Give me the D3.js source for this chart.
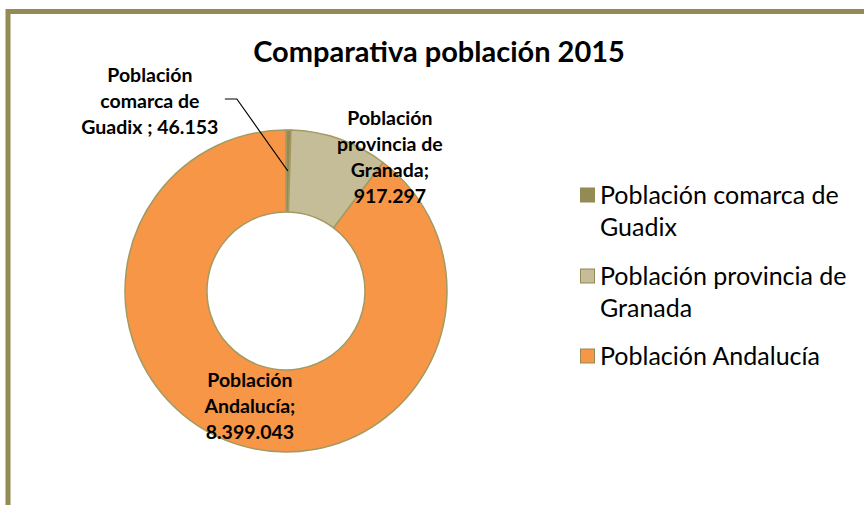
<!DOCTYPE html>
<html>
<head>
<meta charset="utf-8">
<script src="https://cdn.jsdelivr.net/npm/d3@7"></script>
<style>
  body { margin: 0; background: #fff; }
  svg { display: block; font-family: Lato, "Open Sans", sans-serif; }
</style>
</head>
<body>
<svg width="864" height="505"></svg>
<script>
(function() {

// data
var categories = ["Población comarca de Guadix", "Población provincia de Granada", "Población Andalucía"];
var values = [46153, 917297, 8399043];
var separators = [" ; ", "; ", "; "];
var colors = ["#948A54", "#C4BD97", "#F79646"];
var chartTitle = "Comparativa población 2015";

var svg = d3.select("svg"),
    width = 864,
    height = 505;

var esLocale = d3.formatLocale({decimal: ",", thousands: ".", grouping: [3], currency: ["", " €"]});
var fmt = esLocale.format(",d");

// outer frame (runs off the right and bottom edges)
svg.append("rect")
    .attr("x", 8)
    .attr("y", 11.5)
    .attr("width", 900)
    .attr("height", 600)
    .attr("fill", "#fff")
    .attr("stroke", "#948A54")
    .attr("stroke-width", 5);

svg.append("text")
    .attr("x", 439)
    .attr("y", 62)
    .attr("text-anchor", "middle")
    .style("font-weight", "bold")
    .style("font-size", "29px")
    .style("fill", "#000")
    .text(chartTitle);

var cx = 286, cy = 291,
    outerR = 161, innerR = 79;

var pie = d3.pie().sort(null).value(function(d) { return d.value; });
var arc = d3.arc().innerRadius(innerR).outerRadius(outerR);

var data = categories.map(function(c, i) {
    return {name: c, value: values[i], color: colors[i], sep: separators[i]};
});
var arcs = pie(data);

var g = svg.append("g").attr("transform", "translate(" + cx + "," + cy + ")");

g.selectAll("path")
    .data(arcs)
    .enter()
    .append("path")
    .attr("d", arc)
    .attr("fill", function(d) { return d.data.color; })
    .attr("stroke", "#A39A63")
    .attr("stroke-width", 1.5);

// word wrap helper
function wrapLines(textSel, str, maxW) {
    var words = str.split(" "), lines = [], cur = "";
    var probe = textSel.append("tspan");
    words.forEach(function(w) {
        var test = cur ? cur + " " + w : w;
        probe.text(test);
        if (probe.node().getComputedTextLength() > maxW && cur) {
            lines.push(cur);
            cur = w;
        } else {
            cur = test;
        }
    });
    lines.push(cur);
    probe.remove();
    return lines;
}

// data labels: offset from each slice centroid
var labelOffsets = [[-138, -70], [64, -21], [2, 1]];
var labelWidths = [150, 112, 110];
var lineH = 26;

arcs.forEach(function(d, i) {
    var c = arc.centroid(d);
    var lx = c[0] + labelOffsets[i][0],
        ly = c[1] + labelOffsets[i][1];
    var t = g.append("text")
        .attr("text-anchor", "middle")
        .style("font-weight", "bold")
        .style("font-size", "19.5px")
        .style("fill", "#000");
    var lines = wrapLines(t, d.data.name + d.data.sep + fmt(d.data.value), labelWidths[i]);
    var y0 = ly - (lines.length - 1) * lineH / 2;
    lines.forEach(function(l, j) {
        t.append("tspan")
            .attr("x", lx)
            .attr("y", y0 + j * lineH)
            .attr("dy", "0.35em")
            .text(l);
    });
    if (i === 0) {
        // leader line from label to the middle of the thin slice
        g.append("polyline")
            .attr("points", [[lx + 75, ly - 2], [lx + 87, ly - 2], [c[0], c[1]]].join(" "))
            .attr("fill", "none")
            .attr("stroke", "#000")
            .attr("stroke-width", 1.2);
    }
});

// legend
var legend = svg.append("g").attr("transform", "translate(580,0)");
var legendY = [195, 276, 356];
data.forEach(function(d, i) {
    var row = legend.append("g").attr("transform", "translate(0," + legendY[i] + ")");
    row.append("rect")
        .attr("x", 0.5)
        .attr("y", -7)
        .attr("width", 14)
        .attr("height", 14)
        .attr("fill", d.color)
        .attr("stroke", "#948A54")
        .attr("stroke-width", 1);
    var t = row.append("text")
        .style("font-size", "25px")
        .style("fill", "#000");
    var lines = wrapLines(t, d.name, 260);
    lines.forEach(function(l, j) {
        t.append("tspan")
            .attr("x", 20)
            .attr("y", j * 32)
            .attr("dy", "0.35em")
            .text(l);
    });
});

})();
</script>
</body>
</html>
